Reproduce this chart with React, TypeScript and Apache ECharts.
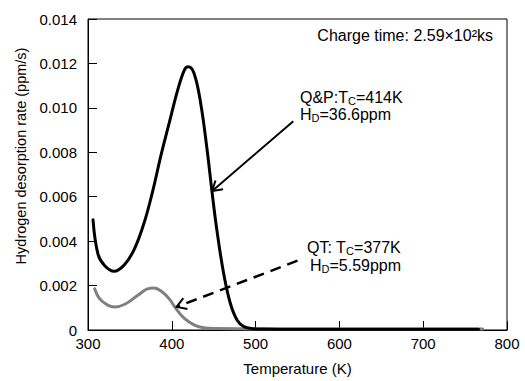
import React, { useEffect, useRef } from "react";
import * as echarts from "echarts";

// Q&P curve (temperature K, desorption rate ppm/s)
const qpTemp = [306, 312, 320, 331, 344, 356, 367.5, 377, 387, 397, 407, 415, 419.5, 426.5, 434.5, 442, 448, 454, 462, 470, 478, 486, 497, 510, 550, 600, 650, 700, 766];
const qpRate = [0.00496, 0.0034, 0.00289, 0.00264, 0.00296, 0.0037, 0.00489, 0.00622, 0.00785, 0.00933, 0.0108, 0.0117, 0.01185, 0.01156, 0.0102, 0.00815, 0.00622, 0.00444, 0.00252, 0.00118, 0.00044, 0.00015, 0.00006, 0.00004, 0.00003, 0.00003, 0.00003, 0.00003, 0.00003];

// QT curve
const qtTemp = [308, 314, 324, 332, 344, 359.5, 371, 379, 389, 397, 405, 415, 427, 438, 454, 500, 550, 600, 650, 700, 771];
const qtRate = [0.00185, 0.0014, 0.00111, 0.00104, 0.00116, 0.00156, 0.00185, 0.00189, 0.0017, 0.0014, 0.00096, 0.00052, 0.00022, 0.0001, 0.00007, 0.00005, 0.00005, 0.00005, 0.00005, 0.00005, 0.00005];

// annotation arrows: [start, tip] in data coordinates
const qpArrow = [[545, 0.0094], [448.2, 0.00626]];
const qtArrow = [[550, 0.00312], [405.8, 0.00104]];

const FONT = "Arial, 'Liberation Sans', sans-serif";

export default function App() {
  const ref = useRef<HTMLDivElement>(null);
  useEffect(() => {
    if (!ref.current) return;
    const chart = echarts.init(ref.current, undefined, { renderer: "svg" });
    const option: any = {
      animation: false,
      grid: { left: 88, right: 18, top: 19, bottom: 48, show: true, borderColor: "#000", borderWidth: 1, backgroundColor: "transparent" },
      xAxis: {
        type: "value", min: 300, max: 800, interval: 100,
        name: "Temperature (K)", nameLocation: "middle", nameGap: 31,
        nameTextStyle: { fontFamily: FONT, fontSize: 15, color: "#000" },
        axisLine: { show: true, lineStyle: { color: "#000", width: 1 } },
        axisTick: { show: true, inside: true, length: 9, lineStyle: { color: "#000" } },
        axisLabel: { fontFamily: FONT, fontSize: 15, color: "#000", margin: 6 },
        splitLine: { show: false },
      },
      yAxis: {
        type: "value", min: 0, max: 0.014, interval: 0.002,
        name: "Hydrogen desorption rate (ppm/s)", nameLocation: "middle", nameGap: 60,
        nameTextStyle: { fontFamily: FONT, fontSize: 14.5, color: "#000", padding: [0, 0, 0, 37] },
        axisLine: { show: true, lineStyle: { color: "#000", width: 1 } },
        axisTick: { show: true, inside: true, length: 9, lineStyle: { color: "#000" } },
        axisLabel: { fontFamily: FONT, fontSize: 15, color: "#000", margin: 11, formatter: (v: number) => (v === 0 ? "0" : v.toFixed(3)) },
        splitLine: { show: false },
      },
      series: [
        {
          type: "line", name: "QT", data: qtTemp.map((t, i) => [t, qtRate[i]]),
          smooth: 0.4, showSymbol: false, lineStyle: { color: "#808080", width: 3, cap: "round", join: "round" }, z: 2,
        },
        {
          type: "line", name: "Q&P", data: qpTemp.map((t, i) => [t, qpRate[i]]),
          smooth: 0.4, showSymbol: false, lineStyle: { color: "#000", width: 3, cap: "round", join: "round" }, z: 3,
        },
      ],
    };
    chart.setOption(option);

    const arrow = (pts: number[][], dashed: boolean) => {
      const a = chart.convertToPixel({ gridIndex: 0 }, pts[0]) as number[];
      const b = chart.convertToPixel({ gridIndex: 0 }, pts[1]) as number[];
      const dx = a[0] - b[0], dy = a[1] - b[1];
      const len = Math.hypot(dx, dy);
      const ux = dx / len, uy = dy / len;
      const hl = 11, ang = (32 * Math.PI) / 180;
      const rot = (s: number) => [
        b[0] + hl * (ux * Math.cos(s * ang) - uy * Math.sin(s * ang)),
        b[1] + hl * (ux * Math.sin(s * ang) + uy * Math.cos(s * ang)),
      ];
      const w = dashed ? 2.5 : 2;
      return [
        { type: "line", shape: { x1: a[0], y1: a[1], x2: b[0], y2: b[1] }, style: { stroke: "#000", lineWidth: w, lineDash: dashed ? [11, 7] : null }, z: 10 },
        { type: "polyline", shape: { points: [rot(1), b, rot(-1)] }, style: { stroke: "#000", fill: null, lineWidth: 2 }, z: 10 },
      ];
    };

    const rich = {
      n: { fontFamily: FONT, fontSize: 16, color: "#000" },
      s: { fontFamily: FONT, fontSize: 11, color: "#000", padding: [8, 0, 0, 0] },
    };
    const txt = (x: number, y: number, text: string, align = "left") => ({
      type: "text", x, y, z: 10,
      style: { text, rich, textAlign: align, textVerticalAlign: "middle", fontFamily: FONT, fontSize: 16, fill: "#000" },
    });

    chart.setOption({
      graphic: [
        ...arrow(qpArrow, false),
        ...arrow(qtArrow, true),
        txt(493, 35, "{n|Charge time: 2.59×10²ks}", "right"),
        txt(300, 97, "{n|Q&P:T}{s|C}{n|=414K}"),
        txt(300, 114, "{n|H}{s|D}{n|=36.6ppm}"),
        txt(307, 247, "{n|QT: T}{s|C}{n|=377K}"),
        txt(310, 265, "{n|H}{s|D}{n|=5.59ppm}"),
      ],
    });

    return () => chart.dispose();
  }, []);
  return <div ref={ref} style={{ width: 525, height: 381, position: "absolute", left: 0, top: 0 }} />;
}
